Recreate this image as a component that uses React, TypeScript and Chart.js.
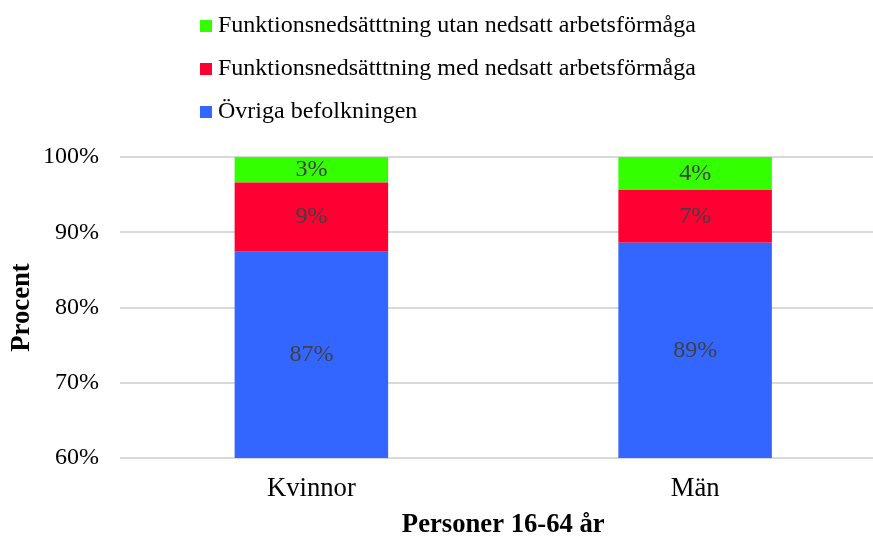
import React, { useEffect, useRef } from 'react';
import { Chart, registerables } from 'chart.js';

Chart.register(...registerables);

const FONT = "'Liberation Serif', 'Times New Roman', Times, serif";

const categories = ['Kvinnor', 'Män'];
const ovrigaBefolkningen = [87.4, 88.6];
const medNedsattArbetsformaga = [9.2, 7.0];
const utanNedsattArbetsformaga = [3.4, 4.4];

const seriesLabels = [
  'Övriga befolkningen',
  'Funktionsnedsätttning med nedsatt arbetsförmåga',
  'Funktionsnedsätttning utan nedsatt arbetsförmåga',
];
const seriesColors = ['#3366FF', '#FF0033', '#33FF00'];
const legendOrder = [2, 1, 0];

const yMin = 60;
const yMax = 100;
const yStep = 10;

const xTitle = 'Personer 16-64 år';
const yTitle = 'Procent';

const legendPlugin = {
  id: 'customLegend',
  afterDraw(chart: any) {
    const ctx = chart.ctx;
    const rows = [26, 69, 112];
    ctx.save();
    ctx.font = `24px ${FONT}`;
    ctx.textBaseline = 'middle';
    ctx.textAlign = 'left';
    legendOrder.forEach((dsIndex, i) => {
      const ds = chart.data.datasets[dsIndex];
      const y = rows[i];
      ctx.fillStyle = ds.backgroundColor;
      ctx.fillRect(200, y - 6, 12, 12);
      ctx.fillStyle = '#000';
      ctx.fillText(ds.label, 218, y);
    });
    ctx.restore();
  },
};

const dataLabelPlugin = {
  id: 'segmentLabels',
  afterDatasetsDraw(chart: any) {
    const ctx = chart.ctx;
    const area = chart.chartArea;
    ctx.save();
    ctx.font = `24px ${FONT}`;
    ctx.textBaseline = 'middle';
    ctx.textAlign = 'center';
    ctx.fillStyle = '#404040';
    chart.data.datasets.forEach((ds: any, di: number) => {
      const meta = chart.getDatasetMeta(di);
      meta.data.forEach((el: any, i: number) => {
        const { x, y, base } = el.getProps(['x', 'y', 'base'], true);
        const top = Math.max(Math.min(y, base), area.top);
        const bottom = Math.min(Math.max(y, base), area.bottom);
        const cy = (top + bottom) / 2;
        ctx.fillText(Math.round(ds.data[i]) + '%', x, cy);
      });
    });
    ctx.restore();
  },
};

export default function App() {
  const canvasRef = useRef<HTMLCanvasElement | null>(null);

  useEffect(() => {
    if (!canvasRef.current) return;
    const values = [ovrigaBefolkningen, medNedsattArbetsformaga, utanNedsattArbetsformaga];
    const chart = new Chart(canvasRef.current, {
      type: 'bar',
      data: {
        labels: categories,
        datasets: values.map((v, i) => ({
          label: seriesLabels[i],
          data: v,
          backgroundColor: seriesColors[i],
          borderWidth: 0,
          categoryPercentage: 1,
          barPercentage: 0.4,
        })),
      },
      options: {
        responsive: false,
        animation: false,
        layout: { padding: { top: 157, left: 0, right: 0, bottom: 0 } },
        plugins: {
          legend: { display: false },
          tooltip: { enabled: false },
        },
        scales: {
          x: {
            stacked: true,
            grid: { display: false, drawTicks: false },
            border: { display: false },
            ticks: {
              color: '#000',
              padding: 15,
              font: { family: FONT, size: 26.67 },
            },
            title: {
              display: true,
              text: xTitle,
              color: '#000',
              font: { family: FONT, size: 26.67, weight: 'bold', lineHeight: 1 },
              padding: { top: 0, bottom: 0 },
            },
            afterFit(scale: any) {
              scale.height = 80;
            },
          },
          y: {
            stacked: true,
            min: yMin,
            max: yMax,
            grid: { color: '#d9d9d9', lineWidth: 2, drawTicks: false },
            border: { display: false },
            ticks: {
              stepSize: yStep,
              color: '#000',
              padding: 20.5,
              font: { family: FONT, size: 24 },
              callback: (v: any) => v + '%',
            },
            title: {
              display: true,
              text: yTitle,
              color: '#000',
              font: { family: FONT, size: 26.67, weight: 'bold', lineHeight: 1 },
              padding: { top: 9, bottom: 0 },
            },
            afterFit(scale: any) {
              scale.width = 119.5;
            },
          },
        },
      },
      plugins: [legendPlugin, dataLabelPlugin],
    });
    return () => chart.destroy();
  }, []);

  return (
    <div
      style={{
        position: 'absolute',
        left: 0,
        top: 0,
        width: 873,
        height: 538,
        overflow: 'hidden',
        background: '#fff',
      }}
    >
      <canvas ref={canvasRef} width={887} height={538} style={{ display: 'block' }} />
    </div>
  );
}
